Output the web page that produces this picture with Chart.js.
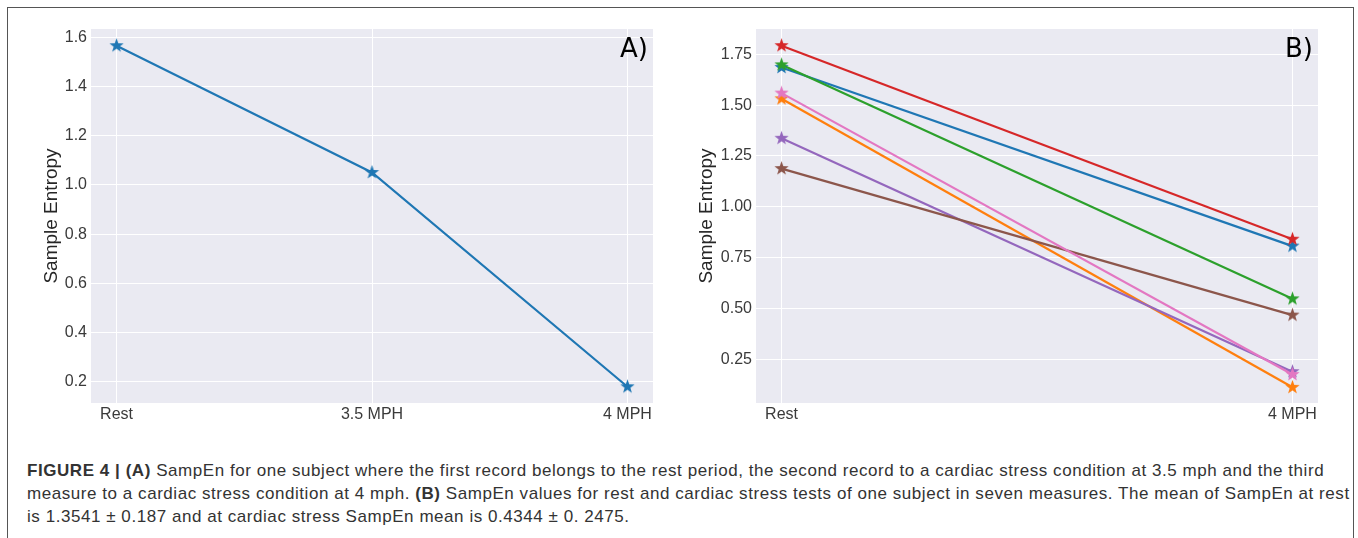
<!DOCTYPE html>
<html>
<head>
<meta charset="utf-8">
<script src="https://cdn.jsdelivr.net/npm/chart.js@4/dist/chart.umd.min.js"></script>
<style>
  body { margin: 0; background: #fff; width: 1358px; height: 538px; overflow: hidden; position: relative; }
  #frame { position: absolute; left: 7px; top: 7px; width: 1347px; height: 540px; border: 1px solid #555; box-sizing: border-box; }
  canvas { position: absolute; }
  #chartA { left: 20px; top: 15px; }
  #chartB { left: 685px; top: 15px; }
  #caption { position: absolute; left: 27px; top: 459px; font-family: "Liberation Sans", Arial, sans-serif; font-size: 17px; letter-spacing: 0.55px; line-height: 23px; color: #333; white-space: nowrap; }
</style>
</head>
<body>
<div id="frame"></div>
<canvas id="chartA" width="650" height="420"></canvas>
<canvas id="chartB" width="650" height="420"></canvas>
<div id="caption"><b>FIGURE 4 | (A)</b> SampEn for one subject where the first record belongs to the rest period, the second record to a cardiac stress condition at 3.5 mph and the third<br>measure to a cardiac stress condition at 4 mph. <b>(B)</b> SampEn values for rest and cardiac stress tests of one subject in seven measures. The mean of SampEn at rest<br>is 1.3541 &plusmn; 0.187 and at cardiac stress SampEn mean is 0.4344 &plusmn; 0. 2475.</div>
<script>
// panel A: one subject, three conditions
const labelsA = ["Rest", "3.5 MPH", "4 MPH"];
const valuesA = [1.566, 1.051, 0.18];
const yTicksA = [0.2, 0.4, 0.6, 0.8, 1.0, 1.2, 1.4, 1.6];

// panel B: seven measures, rest vs 4 mph
const labelsB = ["Rest", "4 MPH"];
const measure1 = [1.685, 0.807];
const measure2 = [1.531, 0.113];
const measure3 = [1.698, 0.548];
const measure4 = [1.792, 0.841];
const measure5 = [1.337, 0.19];
const measure6 = [1.188, 0.468];
const measure7 = [1.559, 0.176];
const yTicksB = [0.25, 0.5, 0.75, 1.0, 1.25, 1.5, 1.75];

const tab10 = ["#1f77b4", "#ff7f0e", "#2ca02c", "#d62728", "#9467bd", "#8c564b", "#e377c2"];
const fontFamily = '"Liberation Sans", Arial, sans-serif';

// filled five point star like matplotlib's "*" marker
const starImage = (color, r) => {
  const size = Math.ceil(r * 2 + 2);
  const c = document.createElement("canvas");
  c.width = size;
  c.height = size;
  const ctx = c.getContext("2d");
  ctx.fillStyle = color;
  ctx.beginPath();
  for (let i = 0; i < 10; i++) {
    const a = -Math.PI / 2 + (i * Math.PI) / 5;
    const rad = i % 2 ? r * 0.4 : r;
    ctx.lineTo(size / 2 + rad * Math.cos(a), size / 2 + rad * Math.sin(a));
  }
  ctx.closePath();
  ctx.fill();
  return c;
};

// grey panel background + the corner letter
const panelPlugin = {
  id: "panel",
  beforeDraw(chart) {
    const { ctx, chartArea: a } = chart;
    ctx.save();
    ctx.fillStyle = "#eaeaf2";
    ctx.fillRect(a.left, a.top, a.width, a.height);
    ctx.restore();
  },
  afterDraw(chart, args, opts) {
    const { ctx, chartArea: a } = chart;
    ctx.save();
    ctx.fillStyle = "#000";
    ctx.font = '26px "DejaVu Sans", sans-serif';
    ctx.textAlign = "right";
    ctx.textBaseline = "alphabetic";
    ctx.fillText(opts.letter, a.right - 5, 42);
    ctx.restore();
  },
};

const makeOptions = (labels, xMin, xMax, yMin, yMax, yTicks, yWidth, titlePad, letter) => ({
  responsive: false,
  animation: false,
  layout: { padding: { top: 14, right: 17, left: 0, bottom: 0 } },
  plugins: { legend: { display: false }, tooltip: { enabled: false }, panel: { letter: letter } },
  scales: {
    x: {
      type: "linear",
      min: xMin,
      max: xMax,
      afterBuildTicks: (scale) => {
        scale.ticks = labels.map((l, i) => ({ value: i }));
      },
      afterFit: (scale) => {
        scale.height = 32;
      },
      ticks: {
        callback: (v) => labels[v],
        color: "#3a3a3a",
        font: { family: fontFamily, size: 16 },
        padding: 2,
        maxRotation: 0,
      },
      grid: { color: "#fff", lineWidth: 1, drawTicks: false },
      border: { display: false },
    },
    y: {
      min: yMin,
      max: yMax,
      afterBuildTicks: (scale) => {
        scale.ticks = yTicks.map((v) => ({ value: v }));
      },
      afterFit: (scale) => {
        scale.width = yWidth;
      },
      ticks: {
        callback: (v) => (yTicks === yTicksA ? v.toFixed(1) : v.toFixed(2)),
        color: "#3a3a3a",
        font: { family: fontFamily, size: 16 },
        padding: 4,
      },
      title: {
        display: true,
        text: "Sample Entropy",
        color: "#262626",
        font: { family: fontFamily, size: 19 },
        padding: { top: titlePad, bottom: 0 },
      },
      grid: { color: "#fff", lineWidth: 1, drawTicks: false },
      border: { display: false },
    },
  },
});

const lineDataset = (values, color, order) => ({
  data: values.map((v, i) => ({ x: i, y: v })),
  borderColor: color,
  backgroundColor: color,
  borderWidth: 2.2,
  tension: 0,
  pointStyle: starImage(color, 7.5),
  pointRadius: 7,
  order: order,
});

new Chart(document.getElementById("chartA"), {
  type: "line",
  data: { datasets: [lineDataset(valuesA, tab10[0], 0)] },
  options: makeOptions(labelsA, -0.1, 2.1, 0.114, 1.634, yTicksA, 71, 20, "A)"),
  plugins: [panelPlugin],
});

const seriesB = [measure1, measure2, measure3, measure4, measure5, measure6, measure7];
new Chart(document.getElementById("chartB"), {
  type: "line",
  data: {
    datasets: seriesB.map((s, i) => lineDataset(s, tab10[i], seriesB.length - i)),
  },
  options: makeOptions(labelsB, -0.05, 1.05, 0.036, 1.874, yTicksB, 71, 10.5, "B)"),
  plugins: [panelPlugin],
});
</script>
</body>
</html>
